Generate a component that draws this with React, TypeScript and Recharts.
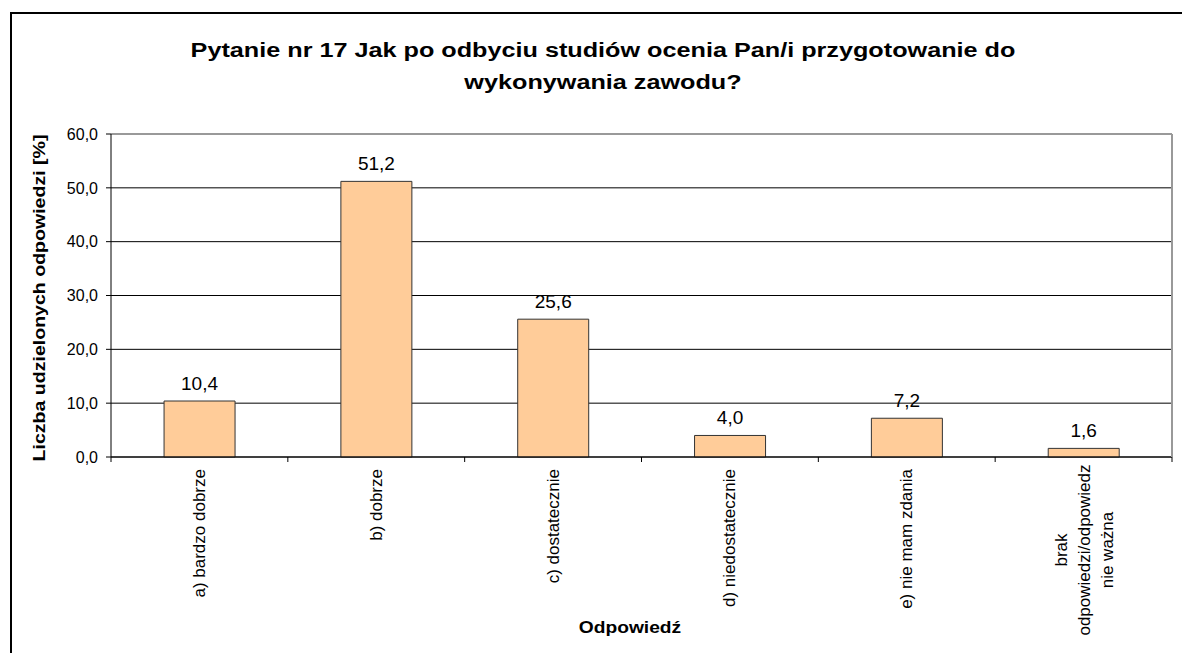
import { BarChart, Bar, XAxis, YAxis, CartesianGrid, ReferenceLine, LabelList } from "recharts";

const CATEGORIES: string[][] = [
  ["a) bardzo dobrze"],
  ["b) dobrze"],
  ["c) dostatecznie"],
  ["d) niedostatecznie"],
  ["e) nie mam zdania"],
  ["brak", "odpowiedzi/odpowiedz", "nie ważna"],
];
const VALUES = [10.4, 51.2, 25.6, 4.0, 7.2, 1.6];
const Y_TICKS = [0, 10, 20, 30, 40, 50, 60];

const TITLE = ["Pytanie nr 17 Jak po odbyciu studiów ocenia Pan/i przygotowanie do", "wykonywania zawodu?"];
const Y_TITLE = "Liczba udzielonych odpowiedzi [%]";
const X_TITLE = "Odpowiedź";

const data = CATEGORIES.map((lines, i) => ({ key: String(i), lines, value: VALUES[i] }));

const FONT = "'Liberation Sans', Arial, sans-serif";
const fmt = (v: number) => Number(v).toFixed(1).replace(".", ",");

// etykiety osi X obrócone o 90 stopni, kreski podziałki na granicach kategorii
const CategoryTick = (props: any) => {
  const { x, y, payload, index } = props;
  const half = payload.offset ?? 88.4;
  const lines: string[] = data[index]?.lines ?? [String(payload.value)];
  const last = index === data.length - 1;
  return (
    <g>
      <line x1={x - half} y1={y} x2={x - half} y2={y + 5} stroke="#000" />
      {last && <line x1={x + half} y1={y} x2={x + half} y2={y + 5} stroke="#000" />}
      {lines.length === 1 ? (
        <text
          x={x}
          y={y + 12}
          transform={`rotate(-90, ${x}, ${y + 12})`}
          textAnchor="end"
          dominantBaseline="central"
          fontSize={17}
          fontFamily={FONT}
          fill="#000"
        >
          {lines[0]}
        </text>
      ) : (
        <text
          x={x}
          y={y + 93}
          transform={`rotate(-90, ${x}, ${y + 93})`}
          textAnchor="middle"
          dominantBaseline="central"
          fontSize={17}
          fontFamily={FONT}
          fill="#000"
        >
          {lines.map((l, i) => (
            <tspan key={i} x={x} dy={i === 0 ? -23 * ((lines.length - 1) / 2) : 23}>
              {l}
            </tspan>
          ))}
        </text>
      )}
    </g>
  );
};

export default function App() {
  return (
    <div style={{ position: "absolute", left: 0, top: 0, width: 1182, height: 653, background: "#fff", fontFamily: FONT }}>
      <div
        style={{
          position: "absolute",
          left: 10,
          top: 12,
          width: 1190,
          height: 660,
          borderLeft: "2px solid #000",
          borderTop: "2px solid #000",
        }}
      />
      <div
        style={{
          position: "absolute",
          left: 103,
          top: 34,
          width: 1000,
          textAlign: "center",
          fontWeight: "bold",
          fontSize: 20,
          lineHeight: "32px",
          color: "#000",
          transform: "scaleX(1.26)",
        }}
      >
        {TITLE.map((t) => (
          <div key={t}>{t}</div>
        ))}
      </div>
      <div
        style={{
          position: "absolute",
          left: 40,
          top: 298,
          transform: "translate(-50%, -50%) rotate(-90deg) scaleX(1.15)",
          whiteSpace: "nowrap",
          fontWeight: "bold",
          fontSize: 17,
          color: "#000",
        }}
      >
        {Y_TITLE}
      </div>
      <div
        style={{
          position: "absolute",
          left: 630,
          top: 628,
          transform: "translate(-50%, -50%) scaleX(1.2)",
          whiteSpace: "nowrap",
          fontWeight: "bold",
          fontSize: 16,
          color: "#000",
        }}
      >
        {X_TITLE}
      </div>
      <div style={{ position: "absolute", left: 0, top: 0 }}>
        <BarChart
          width={1182}
          height={653}
          data={data}
          margin={{ top: 134, right: 0, left: 0, bottom: 0 }}
          barCategoryGap="30%"
        >
          <CartesianGrid horizontal vertical={false} stroke="#000" strokeOpacity={1} />
          <ReferenceLine y={60} stroke="#999" strokeWidth={2} />
          <XAxis
            dataKey="key"
            height={196}
            axisLine={{ stroke: "#000" }}
            tickLine={false}
            tickSize={0}
            tickMargin={0}
            interval={0}
            tick={<CategoryTick />}
          />
          <YAxis
            width={111}
            domain={[0, 60]}
            ticks={Y_TICKS}
            interval={0}
            tickFormatter={fmt}
            axisLine={{ stroke: "#000" }}
            tickLine={{ stroke: "#000" }}
            tickSize={5}
            tickMargin={8}
            tick={{ fontSize: 16, fill: "#000", fontFamily: FONT }}
          />
          <YAxis
            yAxisId="right"
            orientation="right"
            width={10}
            domain={[0, 60]}
            tick={false}
            tickLine={false}
            axisLine={{ stroke: "#999", strokeWidth: 2 }}
          />
          <Bar dataKey="value" fill="#FFCC99" stroke="#333" strokeWidth={1} isAnimationActive={false}>
            <LabelList
              dataKey="value"
              position="top"
              offset={11}
              formatter={(v: any) => fmt(v)}
              style={{ fontSize: 19, fill: "#000", fontFamily: FONT }}
            />
          </Bar>
        </BarChart>
      </div>
    </div>
  );
}
